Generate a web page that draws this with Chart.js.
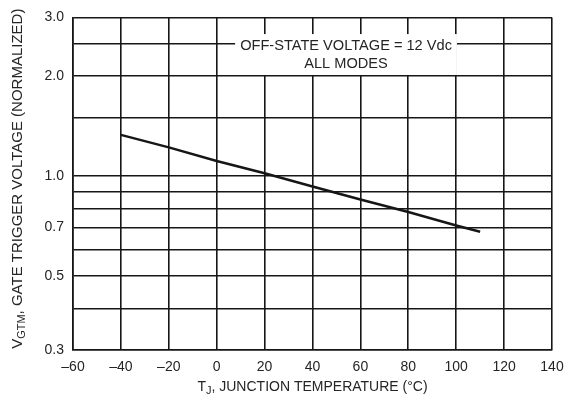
<!DOCTYPE html>
<html>
<head>
<meta charset="utf-8">
<script src="https://cdn.jsdelivr.net/npm/chart.js@4.4.0/dist/chart.umd.min.js"></script>
<style>
  body { margin: 0; background: #fff; }
  #wrap { width: 578px; height: 403px; }
</style>
</head>
<body>
<div id="wrap"><canvas id="gateTrigger" width="578" height="403"></canvas></div>
<script>
var ink = '#161616';
var textInk = '#252525';
var fontFamily = '"Liberation Sans", Arial, Helvetica, sans-serif';

// Data.
var temperatures = [-40, -20, 0, 20, 40, 60, 80, 100, 110];
var gateVoltage = [1.33, 1.22, 1.11, 1.02, 0.93, 0.85, 0.78, 0.71, 0.68];

// Axis ticks.
var yGridValues = [0.3, 0.4, 0.5, 0.6, 0.7, 0.8, 0.9, 1.0, 1.5, 2.0, 2.5, 3.0];
var yLabelValues = [0.3, 0.5, 0.7, 1.0, 2.0, 3.0];

// Note in the top of the plot.
var noteLines = ['OFF-STATE VOLTAGE = 12 Vdc', 'ALL MODES'];
var noteX = 54;
var noteY = [2.46, 2.18];

var yTitle = [['V', false], ['GTM', true], [', GATE TRIGGER VOLTAGE (NORMALIZED)', false]];
var xTitle = [['T', false], ['J', true], [', JUNCTION TEMPERATURE (\u00B0C)', false]];

////////////////////////////////////////////////////////////////////////////////
// Titles with subscripts and the note box.

function drawParts(ctx, parts, cx, cy, size) {
    var big = size + 'px ' + fontFamily;
    var small = Math.round(size * 0.75) + 'px ' + fontFamily;
    var total = 0;
    parts.forEach(function (p) {
        ctx.font = p[1] ? small : big;
        total += ctx.measureText(p[0]).width;
    });
    var x = cx - total / 2;
    ctx.textAlign = 'left';
    ctx.textBaseline = 'middle';
    parts.forEach(function (p) {
        ctx.font = p[1] ? small : big;
        ctx.fillText(p[0], x, p[1] ? cy + 4 : cy);
        x += ctx.measureText(p[0]).width;
    });
}

var extrasPlugin = {
    id: 'extras',
    afterDraw: function (chart) {
        var ctx = chart.ctx;
        var area = chart.chartArea;
        var xs = chart.scales.x;
        var ys = chart.scales.y;
        ctx.save();
        ctx.fillStyle = textInk;

        // Axis titles.
        drawParts(ctx, xTitle, (area.left + area.right) / 2, 387, 14);
        ctx.save();
        ctx.translate(18, (area.top + area.bottom) / 2 - 5);
        ctx.rotate(-Math.PI / 2);
        drawParts(ctx, yTitle, 0, 0, 15);
        ctx.restore();

        // Note box, white so it hides the grid behind it.
        ctx.font = '14.6px ' + fontFamily;
        var cx = xs.getPixelForValue(noteX);
        var w = 0;
        noteLines.forEach(function (t) { w = Math.max(w, ctx.measureText(t).width); });
        var top = ys.getPixelForValue(noteY[0]) - 12;
        var bottom = ys.getPixelForValue(2.0) - 1;
        ctx.fillStyle = '#fff';
        ctx.fillRect(cx - w / 2 - 5, top, w + 10, bottom - top);
        ctx.fillStyle = textInk;
        ctx.textAlign = 'center';
        ctx.textBaseline = 'middle';
        noteLines.forEach(function (t, i) {
            ctx.fillText(t, cx, ys.getPixelForValue(noteY[i]));
        });
        ctx.restore();
    }
};

////////////////////////////////////////////////////////////////////////////////
// Chart.

var ctx = document.getElementById('gateTrigger').getContext('2d');
var myChart = new Chart(ctx, {
    type: 'line',
    plugins: [extrasPlugin],
    data: {
        datasets: [{
            data: temperatures.map(function (t, i) { return { x: t, y: gateVoltage[i] }; }),
            borderColor: ink,
            borderWidth: 2.5,
            pointRadius: 0,
            tension: 0,
            fill: false
        }]
    },
    options: {
        responsive: false,
        animation: false,
        layout: { padding: { top: 17, right: 26, left: 0, bottom: 0 } },
        plugins: {
            legend: { display: false },
            tooltip: { enabled: false }
        },
        scales: {
            x: {
                type: 'linear',
                min: -60,
                max: 140,
                afterFit: function (s) { s.height = 53; },
                grid: { color: ink, lineWidth: 1.6, drawTicks: false },
                border: { color: ink, width: 1.6 },
                ticks: {
                    stepSize: 20,
                    autoSkip: false,
                    maxRotation: 0,
                    padding: 9,
                    color: textInk,
                    font: { family: fontFamily, size: 14 },
                    callback: function (v) { return String(v).replace('-', '\u2013'); }
                }
            },
            y: {
                type: 'logarithmic',
                min: 0.3,
                max: 3.0,
                afterFit: function (s) { s.width = 73; },
                afterBuildTicks: function (s) {
                    s.ticks = yGridValues.map(function (v) { return { value: v }; });
                },
                grid: { color: ink, lineWidth: 1.6, drawTicks: false },
                border: { color: ink, width: 1.6 },
                ticks: {
                    autoSkip: false,
                    padding: 9,
                    color: textInk,
                    font: { family: fontFamily, size: 14 },
                    callback: function (v) {
                        return yLabelValues.indexOf(v) >= 0 ? v.toFixed(1) : '';
                    }
                }
            }
        }
    }
});
</script>
</body>
</html>
